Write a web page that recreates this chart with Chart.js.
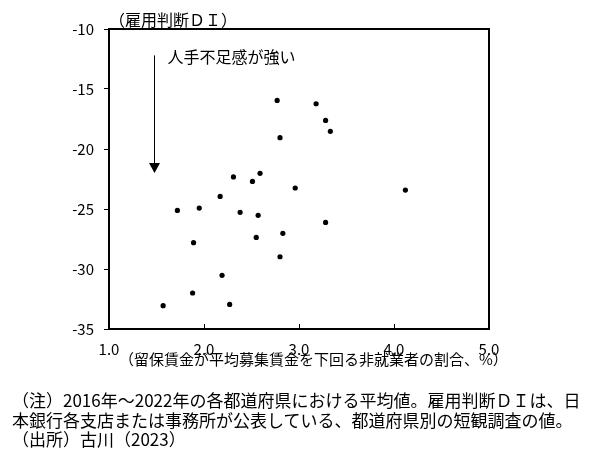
<!DOCTYPE html>
<html>
<head>
<meta charset="utf-8">
<script src="https://cdn.jsdelivr.net/npm/chart.js@4"></script>
<style>
  html, body { margin: 0; padding: 0; background: #fff; }
  #wrap { position: relative; width: 600px; height: 459px; }
  #notes {
    position: absolute; left: 12px; top: 390px;
    font-family: "Noto Sans CJK JP", sans-serif; font-size: 17px; line-height: 19.5px;
    color: #000; white-space: nowrap;
  }
</style>
</head>
<body>
<div id="wrap">
  <canvas id="c" width="600" height="459"></canvas>
  <div id="notes">
    <div>（注）2016年～2022年の各都道府県における平均値。雇用判断ＤＩは、日</div>
    <div>本銀行各支店または事務所が公表している、都道府県別の短観調査の値。</div>
    <div>（出所）古川（2023）</div>
  </div>
</div>
<script>
// share of non-employed whose reservation wage is below the average offered wage (%)
const wageGapShare = [2.77, 3.18, 3.28, 3.33, 2.80, 2.31, 2.51, 2.59, 2.96, 4.12, 2.17, 1.72,
  1.95, 2.38, 2.57, 3.28, 2.83, 2.55, 1.89, 2.80, 2.19, 1.88, 2.27, 1.57]
// employment conditions DI by prefecture
const employmentDI = [-15.95, -16.23, -17.62, -18.53, -19.06, -22.33, -22.70, -22.03, -23.25, -23.42, -23.95, -25.12,
  -24.92, -25.28, -25.53, -26.12, -27.03, -27.37, -27.81, -28.98, -30.53, -32.0, -32.95, -33.06]

const xTicks = [1, 2, 3, 4, 5]
const yTicks = [-35, -30, -25, -20, -15, -10]

const yTitle = "（雇用判断ＤＩ）"
const xTitle = "（留保賃金が平均募集賃金を下回る非就業者の割合、%）"
const arrowLabel = "人手不足感が強い"

const FONT = '"Noto Sans CJK JP", sans-serif'

const points = wageGapShare.map((x, i) => ({ x, y: employmentDI[i] }))

const decor = {
  id: "decor",
  afterDraw(chart) {
    const { ctx, chartArea: a, scales: { x, y } } = chart
    ctx.save()
    ctx.strokeStyle = "#000"
    ctx.lineWidth = 2
    ctx.strokeRect(a.left, a.top, a.right - a.left, a.bottom - a.top)

    // inward x ticks
    ctx.lineWidth = 1
    xTicks.forEach(v => {
      const px = Math.round(x.getPixelForValue(v)) + 0.5
      ctx.beginPath()
      ctx.moveTo(px, a.bottom)
      ctx.lineTo(px, a.bottom - 5)
      ctx.stroke()
    })

    // arrow
    const ax = Math.round(x.getPixelForValue(1.47)) + 0.5
    const top = y.getPixelForValue(-12.2)
    const tip = y.getPixelForValue(-22.0)
    ctx.beginPath()
    ctx.moveTo(ax, top)
    ctx.lineTo(ax, tip - 9)
    ctx.stroke()
    ctx.fillStyle = "#000"
    ctx.beginPath()
    ctx.moveTo(ax - 5.5, tip - 10)
    ctx.lineTo(ax + 5.5, tip - 10)
    ctx.lineTo(ax, tip)
    ctx.closePath()
    ctx.fill()

    ctx.font = "16px " + FONT
    ctx.textBaseline = "middle"
    ctx.textAlign = "left"
    ctx.fillText(arrowLabel, ax + 13, top + 2)

    ctx.fillText(yTitle, a.left, a.top - 9)

    ctx.font = "15px " + FONT
    ctx.fillText(xTitle, a.left + 10, a.bottom + 30)
    ctx.restore()
  }
}

new Chart(document.getElementById("c"), {
  type: "scatter",
  data: {
    datasets: [{
      data: points,
      backgroundColor: "#000",
      borderWidth: 0,
      pointRadius: 2.6,
      pointHoverRadius: 2.6
    }]
  },
  options: {
    responsive: false,
    animation: false,
    layout: { padding: { left: 0, right: 111, top: 29, bottom: 100 } },
    scales: {
      x: {
        type: "linear",
        min: 1, max: 5,
        afterBuildTicks: s => { s.ticks = xTicks.map(value => ({ value })) },
        afterFit: s => { s.height = 30 },
        border: { display: false },
        grid: { display: false },
        ticks: {
          padding: 3,
          color: "#000",
          font: { family: FONT, size: 15 },
          callback: v => v.toFixed(1)
        }
      },
      y: {
        min: -35, max: -10,
        afterBuildTicks: s => { s.ticks = yTicks.map(value => ({ value })) },
        afterFit: s => { s.width = 109 },
        border: { display: false },
        grid: { drawOnChartArea: false, drawTicks: true, tickLength: 5, color: "#000", lineWidth: 1 },
        ticks: {
          padding: 10,
          color: "#000",
          font: { family: FONT, size: 15 }
        }
      }
    },
    plugins: { legend: { display: false }, tooltip: { enabled: false } }
  },
  plugins: [decor]
})
</script>
</body>
</html>
